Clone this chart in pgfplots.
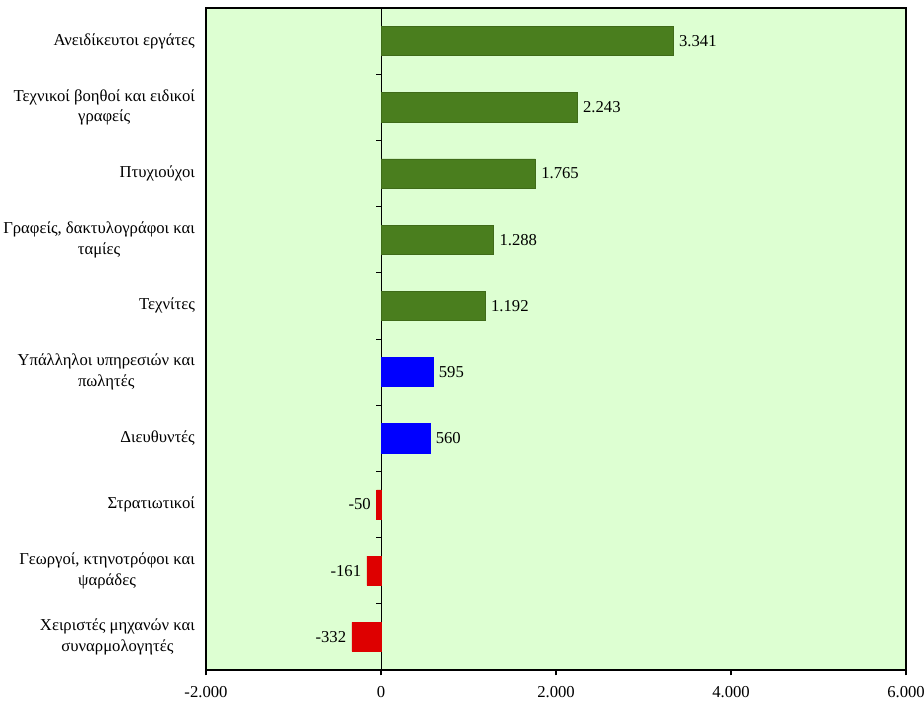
\documentclass[border=0pt]{standalone}
\usepackage{pgfplots}
\pgfplotsset{compat=1.18}
\usepackage{fontspec}
\setmainfont{Liberation Serif}
\definecolor{bgreen}{RGB}{74,126,30}
\definecolor{bblue}{RGB}{0,0,255}
\definecolor{bred}{RGB}{222,0,0}
\definecolor{panel}{RGB}{221,255,210}
\begin{document}
\fontsize{12.5}{14}\selectfont
\begin{tikzpicture}
\begin{axis}[
  scale only axis,
  width=525pt, height=496.5pt,
  xmin=-2000, xmax=6000,
  ymin=0.5, ymax=10.5,
  xbar, bar width=0.44, bar shift=0pt,
  axis line style={line width=1.6pt},
  axis background/.style={fill=panel},
  xtick={-2000,0,2000,4000,6000},
  xticklabels={-2.000,0,2.000,4.000,6.000},
  xtick pos=bottom, tick align=outside,
  major tick length=4pt,
  xtick style={black, line width=0.8pt},
  ytick={1,...,10},
  yticklabels={
    {Χειριστές μηχανών και\\συναρμολογητές},
    {Γεωργοί, κτηνοτρόφοι και\\ψαράδες},
    {Στρατιωτικοί},
    {Διευθυντές},
    {Υπάλληλοι υπηρεσιών και\\πωλητές},
    {Τεχνίτες},
    {Γραφείς, δακτυλογράφοι και\\ταμίες},
    {Πτυχιούχοι},
    {Τεχνικοί βοηθοί και ειδικοί\\γραφείς},
    {Ανειδίκευτοι εργάτες}},
  yticklabel style={align=center, font=\fontsize{12.5}{15.5}\selectfont, xshift=0pt},
  ytick style={draw=none},
  xticklabel style={yshift=-4pt, font=\fontsize{12.5}{14}\selectfont},
  point meta=explicit symbolic,
  nodes near coords,
  every node near coord/.append style={font=\fontsize{12.5}{14}\selectfont, black, anchor=west},
  clip=false,
]
\draw[black, line width=0.6pt] (axis cs:0,0.5) -- (axis cs:0,10.5);
\pgfplotsinvokeforeach{1.5,2.5,...,9.5}{
  \draw[black, line width=0.6pt] (axis cs:0,#1) -- ([xshift=-4pt]axis cs:0,#1);
}
\addplot[fill=bgreen, draw=bgreen!85!black]
  coordinates {(3341,10) [3.341] (2243,9) [2.243] (1765,8) [1.765] (1288,7) [1.288] (1192,6) [1.192]};
\addplot[fill=bblue, draw=bblue]
  coordinates {(595,5) [595] (560,4) [560]};
\addplot[fill=bred, draw=bred, every node near coord/.append style={anchor=east}]
  coordinates {(-50,3) [-50] (-161,2) [-161] (-332,1) [-332]};
\coordinate (sw) at (rel axis cs:0,0);
\end{axis}
\pgfresetboundingbox
\path (sw) ++(-154.5pt,-24pt) rectangle ++(693pt,526.5pt);
\end{tikzpicture}
\end{document}
